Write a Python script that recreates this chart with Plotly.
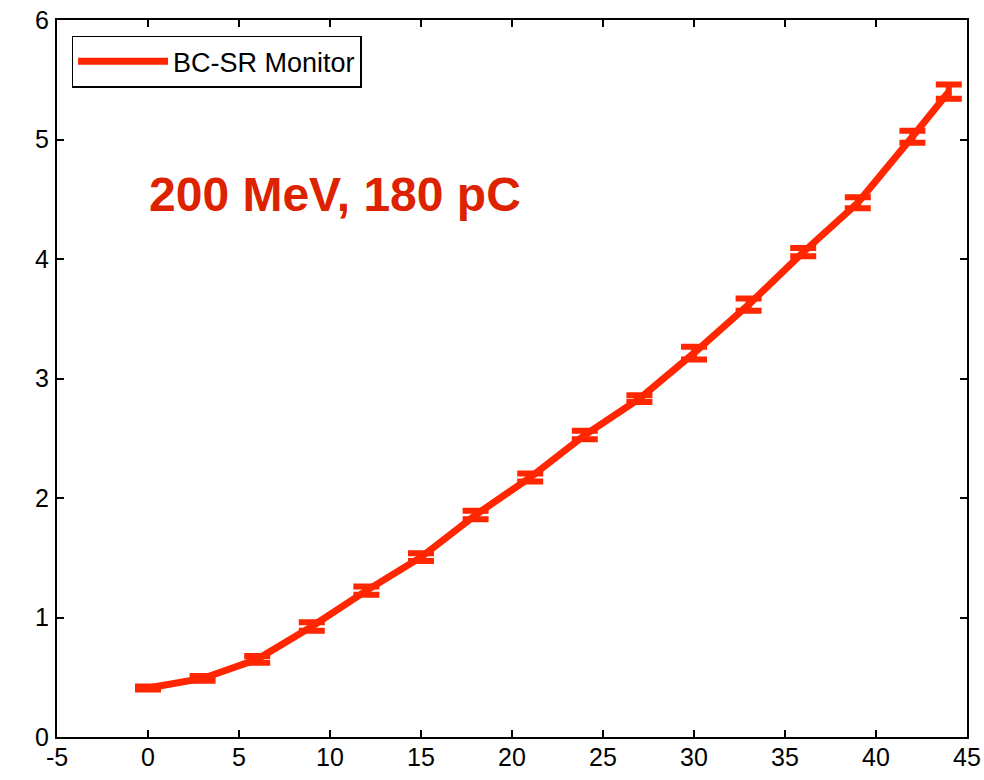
import plotly.graph_objects as go

x_vals = [0, 3, 6, 9, 12, 15, 18, 21, 24, 27, 30, 33, 36, 39, 42, 44]
y_vals = [0.41, 0.49, 0.65, 0.925, 1.225, 1.505, 1.858, 2.172, 2.527, 2.832, 3.213, 3.618, 4.057, 4.47, 5.023, 5.40]
y_err = [0.012, 0.02, 0.028, 0.036, 0.035, 0.033, 0.035, 0.034, 0.036, 0.028, 0.053, 0.052, 0.035, 0.046, 0.05, 0.06]

series_name = "BC-SR Monitor"
annotation_text = "200 MeV, 180 pC"
x_ticks = [-5, 0, 5, 10, 15, 20, 25, 30, 35, 40, 45]
y_ticks = [0, 1, 2, 3, 4, 5, 6]

line_color = "#FF2600"
font_family = "Liberation Sans, Arial, sans-serif"

fig = go.Figure()
fig.add_trace(go.Scatter(
    x=x_vals, y=y_vals, mode="lines", name=series_name,
    line=dict(color=line_color, width=7),
    error_y=dict(type="data", array=y_err, visible=True, color=line_color,
                 thickness=6, width=13),
))

fig.add_annotation(
    x=10.3, y=4.54, xref="x", yref="y", text="<b>" + annotation_text + "</b>",
    showarrow=False, xanchor="center", yanchor="middle",
    font=dict(family=font_family, size=48, color="#DD2200"),
)

axis_common = dict(
    showgrid=False, zeroline=False, showline=True, linecolor="black", linewidth=2,
    mirror="allticks", ticks="inside", ticklen=7, tickwidth=1.5, tickcolor="black",
    tickfont=dict(family=font_family, size=25, color="black"),
    automargin=False, ticklabeloverflow="allow",
)

fig.update_xaxes(range=[-5, 45], tickvals=x_ticks, ticktext=[str(t) for t in x_ticks],
                 ticklabelstandoff=-3, **axis_common)
fig.update_yaxes(range=[0, 6], tickvals=y_ticks, ticktext=[str(t) for t in y_ticks],
                 ticklabelstandoff=1, **axis_common)

fig.update_layout(
    width=984, height=780,
    margin=dict(l=57, r=17, t=20, b=43),
    paper_bgcolor="white", plot_bgcolor="white",
    showlegend=True,
    legend=dict(
        x=0.016, y=0.978, xanchor="left", yanchor="top",
        bgcolor="white", bordercolor="black", borderwidth=1.5,
        font=dict(family=font_family, size=27, color="black"),
        itemwidth=90,
    ),
)

# remove the browser's default 8px body margin so the figure fills the window exactly
fig.write_html(
    "out.html",
    config={"displayModeBar": False},
    post_script="document.body.style.margin='0px';document.body.style.overflow='hidden';",
)
